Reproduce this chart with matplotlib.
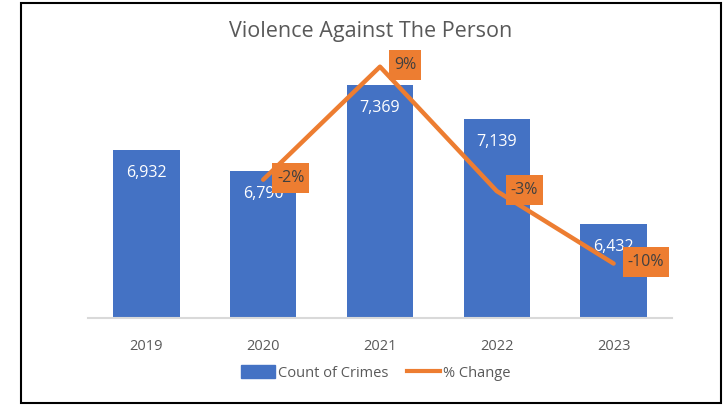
import matplotlib
matplotlib.use("Agg")
import matplotlib.pyplot as plt
from matplotlib.patches import Patch, Rectangle
from matplotlib.lines import Line2D

YEARS = ["2019", "2020", "2021", "2022", "2023"]
COUNTS = [6932, 6790, 7369, 7139, 6432]
PCT_YEARS = ["2020", "2021", "2022", "2023"]
PCT_CHANGE = [-2.05, 8.53, -3.12, -9.90]

BLUE = "#4472C4"
ORANGE = "#ED7D31"
GREY = "#595959"

plt.rcParams["font.family"] = ["Open Sans", "DejaVu Sans"]

W, H = 726, 407
fig = plt.figure(figsize=(W / 100, H / 100), dpi=100)
ax = fig.add_axes([88 / W, (H - 318) / H, (672 - 88) / W, (318 - 51) / H])

x = list(range(len(YEARS)))
ax.bar(x, COUNTS, width=0.57, color=BLUE, zorder=2)
ax.set_xlim(-0.5, len(YEARS) - 0.5)
ax.set_ylim(5800, 7600)
ax.set_xticks(x)
ax.set_xticklabels(YEARS, fontsize=10.5, color=GREY)
ax.tick_params(axis="x", length=0, pad=15)
ax.set_yticks([])
for side in ["top", "left", "right"]:
    ax.spines[side].set_visible(False)
ax.spines["bottom"].set_color("#d9d9d9")
ax.spines["bottom"].set_linewidth(1.5)

# value labels sit inside the top of each bar
for xi, v in zip(x, COUNTS):
    ax.annotate(f"{v:,}", (xi, v), xytext=(0, -16.5), textcoords="offset points",
                ha="center", va="center", color="white", fontsize=11.5, zorder=3)

ax2 = ax.twinx()
ax2.set_ylim(-15, 10)
ax2.axis("off")
px = [YEARS.index(y) for y in PCT_YEARS]
ax2.plot(px, PCT_CHANGE, color=ORANGE, linewidth=3.2, solid_joinstyle="round",
         solid_capstyle="round", zorder=4)
for xi, v in zip(px, PCT_CHANGE):
    ax2.annotate(f"{round(v):.0f}%", (xi, v), xytext=(10, 1), textcoords="offset points",
                 ha="left", va="center", color="#404040", fontsize=11.5, zorder=5,
                 bbox=dict(boxstyle="square,pad=0.3", fc=ORANGE, ec="none",
                           mutation_aspect=1.5))

fig.text(371 / W, 1 - 31 / H, "Violence Against The Person", ha="center", va="center",
         fontsize=15.5, color=GREY)

handles = [Patch(color=BLUE), Line2D([0], [0], color=ORANGE, linewidth=3)]
fig.legend(handles, ["Count of Crimes", "% Change"], loc="center",
           bbox_to_anchor=(376 / W, 1 - 373 / H), ncol=2, frameon=False,
           fontsize=10.5, labelcolor=GREY, handlelength=2.3, handleheight=1.0,
           handletextpad=0.2, columnspacing=1.3)

fig.patches.append(Rectangle((21 / W, 1 - 403 / H), 700 / W, 400 / H, transform=fig.transFigure,
                             fill=False, ec="black", lw=1.5))

fig.savefig("out.png", dpi=100)
